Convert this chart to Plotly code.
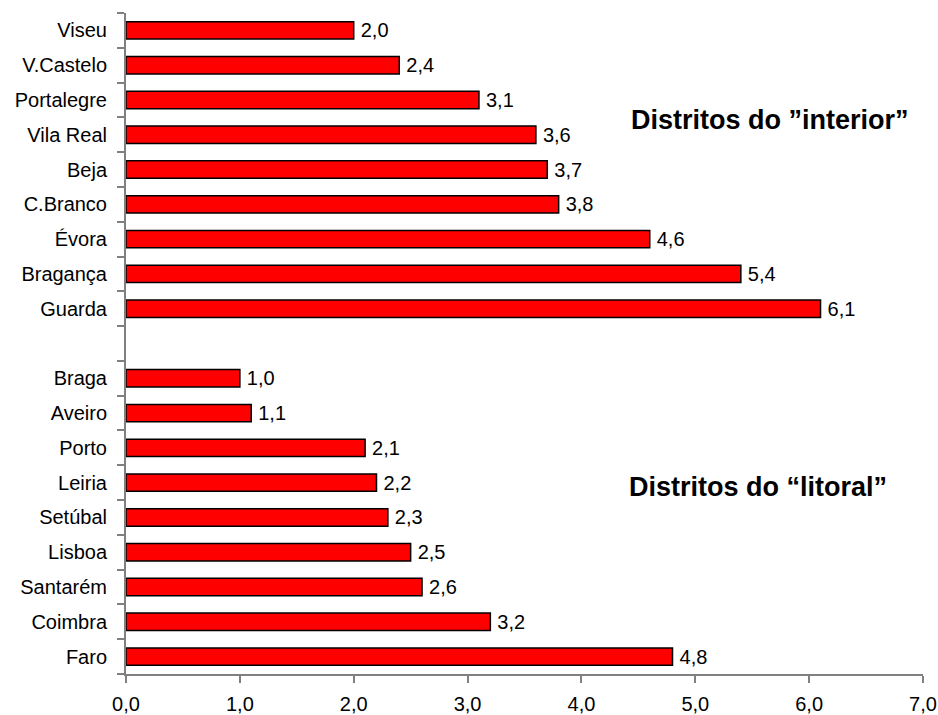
import plotly.graph_objects as go

# Districts listed bottom-to-top; the blank entry separates the two groups
districts = [
    "Faro", "Coimbra", "Santarém", "Lisboa", "Setúbal", "Leiria", "Porto",
    "Aveiro", "Braga", " ",
    "Guarda", "Bragança", "Évora", "C.Branco", "Beja", "Vila Real",
    "Portalegre", "V.Castelo", "Viseu",
]
values = [
    4.8, 3.2, 2.6, 2.5, 2.3, 2.2, 2.1, 1.1, 1.0, None,
    6.1, 5.4, 4.6, 3.8, 3.7, 3.6, 3.1, 2.4, 2.0,
]
x_ticks = [0, 1, 2, 3, 4, 5, 6, 7]

label_interior = "Distritos do \u201dinterior\u201d"
label_litoral = "Distritos do \u201clitoral\u201d"

FONT = "Liberation Sans, Arial, sans-serif"
AXIS_GRAY = "#808080"

fig = go.Figure(
    go.Bar(
        x=values,
        y=districts,
        orientation="h",
        marker=dict(color="#ff0000", line=dict(color="#000000", width=1.5)),
        texttemplate="\u2009%{x:.1f}",
        textposition="outside",
        textfont=dict(family=FONT, size=20, color="#000000"),
        constraintext="none",
        cliponaxis=False,
        hoverinfo="skip",
    )
)

fig.update_layout(
    width=938,
    height=715,
    margin=dict(l=126, r=15, t=13, b=41),
    paper_bgcolor="#ffffff",
    plot_bgcolor="#ffffff",
    separators=",.",
    bargap=0.5,
    showlegend=False,
    font=dict(family=FONT, size=20, color="#000000"),
    xaxis=dict(
        range=[0, 7],
        tickvals=x_ticks,
        tickformat=".1f",
        ticks="outside",
        ticklen=7,
        tickwidth=2,
        tickcolor=AXIS_GRAY,
        showline=True,
        linecolor=AXIS_GRAY,
        linewidth=2,
        showgrid=False,
        zeroline=False,
        automargin=False,
        ticklabelstandoff=4,
        tickfont=dict(family=FONT, size=20, color="#000000"),
    ),
    yaxis=dict(
        type="category",
        categoryorder="array",
        categoryarray=districts,
        range=[-0.5, len(districts) - 0.5],
        ticks="outside",
        tickson="boundaries",
        ticklen=7,
        tickwidth=2,
        tickcolor=AXIS_GRAY,
        showline=True,
        linecolor=AXIS_GRAY,
        linewidth=2,
        showgrid=False,
        zeroline=False,
        automargin=False,
        ticklabelstandoff=13,
        tickfont=dict(family=FONT, size=20, color="#000000"),
    ),
    annotations=[
        dict(
            text=f"<b>{label_interior}</b>",
            x=5.66, xref="x", y=0.838, yref="paper",
            xanchor="center", yanchor="middle", showarrow=False,
            font=dict(family=FONT, size=27, color="#000000"),
        ),
        dict(
            text=f"<b>{label_litoral}</b>",
            x=5.55, xref="x", y=0.283, yref="paper",
            xanchor="center", yanchor="middle", showarrow=False,
            font=dict(family=FONT, size=27, color="#000000"),
        ),
    ],
)

fig.write_html("out.html")
